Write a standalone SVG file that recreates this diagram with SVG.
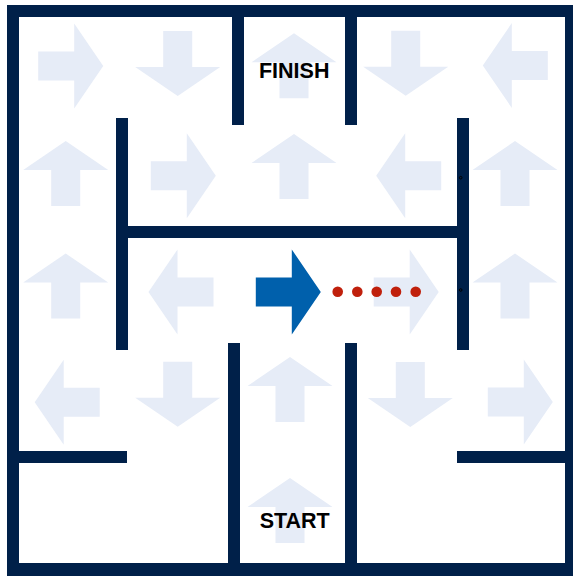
<svg xmlns="http://www.w3.org/2000/svg" xmlns:xlink="http://www.w3.org/1999/xlink" width="573" height="576" viewBox="0 0 573 576">
<style>
.wall{fill:#002049}
.hint{fill:#E6ECF7}
.lbl{font-family:"Liberation Sans",Arial,sans-serif;font-weight:bold;font-size:21.5px;fill:#000;text-anchor:middle}
.dot{fill:#C0200C}
.pin{fill:none;stroke:#000;stroke-width:1}
</style>
<defs>
<path id="a" d="M-32.5,-14.5 H3.5 V-42.5 L32.5,0 L3.5,42.5 V14.5 H-32.5 Z"/>
</defs>
<rect width="573" height="576" fill="#fff"/>
<g id="hints" class="hint">
<use xlink:href="#a" href="#a" transform="translate(70.7,66)"/>
<use xlink:href="#a" href="#a" transform="translate(177.7,63.5) rotate(90)"/>
<use xlink:href="#a" href="#a" transform="translate(294,65.8) rotate(-90)"/>
<use xlink:href="#a" href="#a" transform="translate(405.7,63.3) rotate(90)"/>
<use xlink:href="#a" href="#a" transform="translate(515.3,65.5) rotate(180)"/>
<use xlink:href="#a" href="#a" transform="translate(65.7,173.5) rotate(-90)"/>
<use xlink:href="#a" href="#a" transform="translate(183.3,175.7)"/>
<use xlink:href="#a" href="#a" transform="translate(294,166.5) rotate(-90)"/>
<use xlink:href="#a" href="#a" transform="translate(408.7,175.7) rotate(180)"/>
<use xlink:href="#a" href="#a" transform="translate(515,173.5) rotate(-90)"/>
<use xlink:href="#a" href="#a" transform="translate(65.7,286) rotate(-90)"/>
<use xlink:href="#a" href="#a" transform="translate(181,292) rotate(180)"/>
<use xlink:href="#a" href="#a" transform="translate(406.2,292)"/>
<use xlink:href="#a" href="#a" transform="translate(515,286) rotate(-90)"/>
<use xlink:href="#a" href="#a" transform="translate(67.2,402.3) rotate(180)"/>
<use xlink:href="#a" href="#a" transform="translate(177.7,394.3) rotate(90)"/>
<use xlink:href="#a" href="#a" transform="translate(290,389.5) rotate(-90)"/>
<use xlink:href="#a" href="#a" transform="translate(410.3,394.5) rotate(90)"/>
<use xlink:href="#a" href="#a" transform="translate(520.3,402)"/>
<use xlink:href="#a" href="#a" transform="translate(290,510.5) rotate(-90)"/>
</g>
<g id="walls" class="wall">
<rect x="7" y="5" width="570" height="12"/>
<rect x="7" y="5" width="12" height="570"/>
<rect x="7" y="563" width="570" height="13"/>
<rect x="565" y="5" width="12" height="570"/>
<rect x="232" y="5" width="12" height="120"/>
<rect x="345" y="5" width="12" height="120"/>
<rect x="116" y="118" width="12" height="232"/>
<rect x="457" y="118" width="12" height="232"/>
<rect x="116" y="226" width="353" height="12"/>
<rect x="228" y="343" width="12" height="225"/>
<rect x="345" y="343" width="12" height="225"/>
<rect x="7" y="451" width="120" height="12"/>
<rect x="457" y="451" width="115" height="12"/>
</g>
<g id="pins" class="pin">
<circle cx="460.7" cy="177.7" r="1.3"/>
<circle cx="460.7" cy="290" r="1.3"/>
</g>
<g id="finish"><text class="lbl" x="294.2" y="77.7">FINISH</text></g>
<g id="start"><text class="lbl" x="294.7" y="528.3">START</text></g>
<g id="connectors">
<use xlink:href="#a" href="#a" transform="translate(288.3,292)" fill="#0060AC"/>
<g class="dot">
<circle cx="337.7" cy="291.7" r="5.3"/>
<circle cx="357.3" cy="291.7" r="5.3"/>
<circle cx="376.7" cy="291.7" r="5.3"/>
<circle cx="396" cy="291.7" r="5.3"/>
<circle cx="415.7" cy="291.7" r="5.3"/>
</g>
</g>
</svg>
